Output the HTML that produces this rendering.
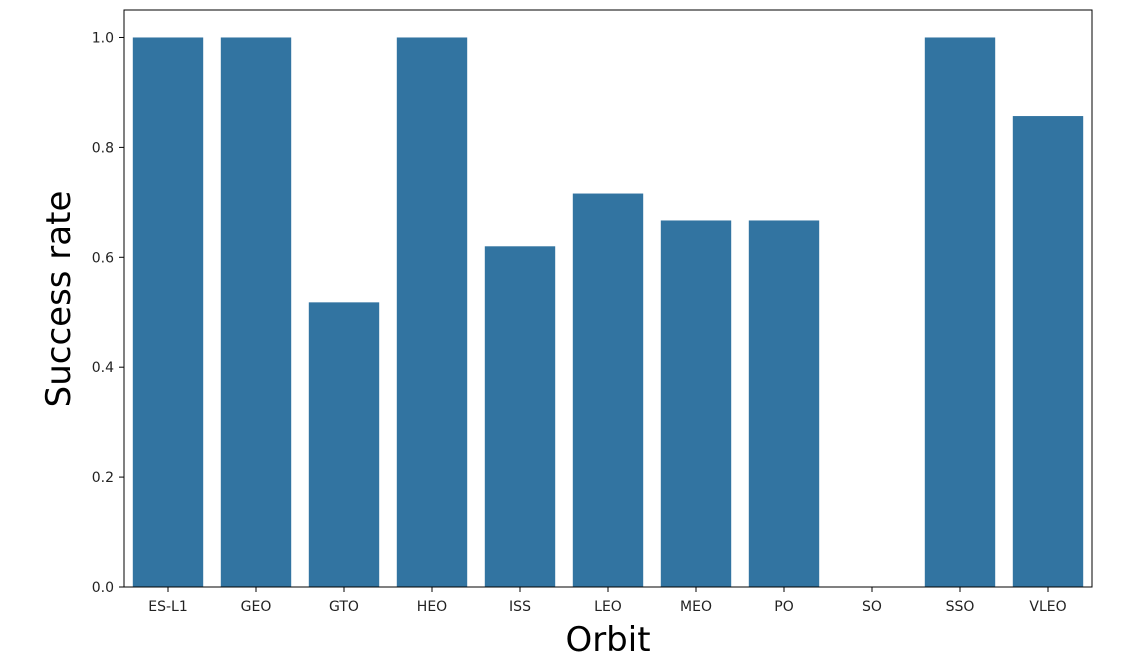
<!DOCTYPE html>
<html><head><meta charset="utf-8">
<style>
html,body{margin:0;padding:0;background:#fff;}
svg{display:block;font-family:"DejaVu Sans","Liberation Sans",sans-serif;}
</style></head>
<body>
<svg id="chart" width="1132" height="672"></svg>
<script>
const categories = ["ES-L1","GEO","GTO","HEO","ISS","LEO","MEO","PO","SO","SSO","VLEO"];
const successRates = [1.0,1.0,0.518,1.0,0.62,0.716,0.667,0.667,0.0,1.0,0.857];
const yTicks = [0.0,0.2,0.4,0.6,0.8,1.0];

const NS="http://www.w3.org/2000/svg";
const svg=document.getElementById('chart');
const L=124,R=1092,T=10,B=587,yMax=1.05;
const yScale=v=>B-(v/yMax)*(B-T);
const step=(R-L)/categories.length;
const xCenter=i=>L+step*(i+0.5);
function mk(tag,attrs,parent){const e=document.createElementNS(NS,tag);for(const k in attrs)e.setAttribute(k,attrs[k]);(parent||svg).appendChild(e);return e;}

const bars=mk('g',{});


categories.forEach((c,i)=>{
  const w=step*0.8;
  const y=yScale(successRates[i]);
  const r=mk('rect',{x:xCenter(i)-w/2,y:y,width:w,height:B-y,fill:'#3274a1'},bars);
  
  
  mk('line',{x1:xCenter(i),x2:xCenter(i),y1:B,y2:B+5,stroke:'#000','stroke-width':1});
  const lbl=mk('text',{x:xCenter(i),y:B+24,'text-anchor':'middle','font-size':14,fill:'#222'});
  lbl.textContent=c;
  
  
});
yTicks.forEach(v=>{
  const y=yScale(v);
  mk('line',{x1:L-5,x2:L,y1:y,y2:y,stroke:'#000','stroke-width':1});
  const lbl=mk('text',{x:L-10,y:y+5,'text-anchor':'end','font-size':14,fill:'#222'});
  lbl.textContent=v.toFixed(1);
  
  
});
const frame=mk('rect',{x:L,y:T,width:R-L,height:B-T,fill:'none',stroke:'#000','stroke-width':1});


const xt=mk('text',{x:(L+R)/2,y:651,'text-anchor':'middle','font-size':34,fill:'#000'});
xt.textContent='Orbit';


const yt=mk('text',{x:0,y:0,'text-anchor':'middle','font-size':34,fill:'#000',transform:'translate(70,299) rotate(-90)'});
yt.textContent='Success rate';


</script>
</body></html>
